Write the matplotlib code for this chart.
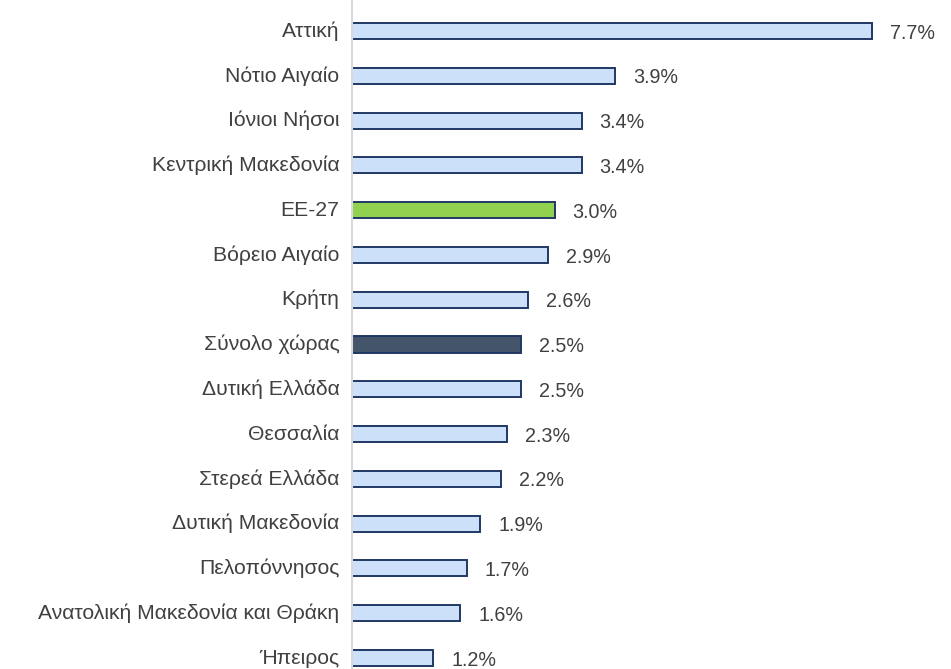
"""
Horizontal bar chart of regional shares (Greek regions vs EU-27)
"""

import matplotlib.pyplot as plt
import matplotlib.transforms as mtransforms
import numpy as np

regions = ['Αττική', 'Νότιο Αιγαίο', 'Ιόνιοι Νήσοι', 'Κεντρική Μακεδονία', 'ΕΕ-27',
           'Βόρειο Αιγαίο', 'Κρήτη', 'Σύνολο χώρας', 'Δυτική Ελλάδα', 'Θεσσαλία',
           'Στερεά Ελλάδα', 'Δυτική Μακεδονία', 'Πελοπόννησος',
           'Ανατολική Μακεδονία και Θράκη', 'Ήπειρος']
values = [7.7, 3.9, 3.4, 3.4, 3.0, 2.9, 2.6, 2.5, 2.5, 2.3, 2.2, 1.9, 1.7, 1.6, 1.2]

default_color = '#CCE0FA'
special_colors = {'ΕΕ-27': '#92D050', 'Σύνολο χώρας': '#44546A'}

plt.rcParams['font.family'] = ['Liberation Sans', 'DejaVu Sans']

W, H = 951, 669
fig = plt.figure(figsize=(W / 100, H / 100), dpi=100)
ax = fig.add_axes([352 / W, 0, 594 / W, 1])

y = np.arange(len(regions))
colors = [special_colors.get(r, default_color) for r in regions]
bars = ax.barh(y, values, height=0.36, color=colors, edgecolor='#1F3864', linewidth=1.4)

ax.set_xlim(0, 8.8)
ax.set_ylim(14 + 11 / 44.8, -31 / 44.8)

ax.set_yticks(y)
ax.set_yticklabels(regions, fontsize=15.2, color='#404040')
ax.tick_params(axis='y', length=0, pad=9)
ax.set_xticks([])
# nudge category labels up a touch so the bottom one stays inside the figure
shift = mtransforms.ScaledTranslation(0, 2 / 100, fig.dpi_scale_trans)
for lbl in ax.get_yticklabels():
    lbl.set_transform(lbl.get_transform() + shift)

for side in ['top', 'right', 'bottom']:
    ax.spines[side].set_visible(False)
ax.spines['left'].set_color('#D9D9D9')
ax.spines['left'].set_linewidth(1.5)

for bar, v in zip(bars, values):
    ax.annotate(f'{v:.1f}%', (bar.get_width(), bar.get_y() + bar.get_height() / 2),
                xytext=(13, -1.5), textcoords='offset points',
                ha='left', va='center', fontsize=14.2, color='#404040')

fig.savefig('out.png', dpi=100)
